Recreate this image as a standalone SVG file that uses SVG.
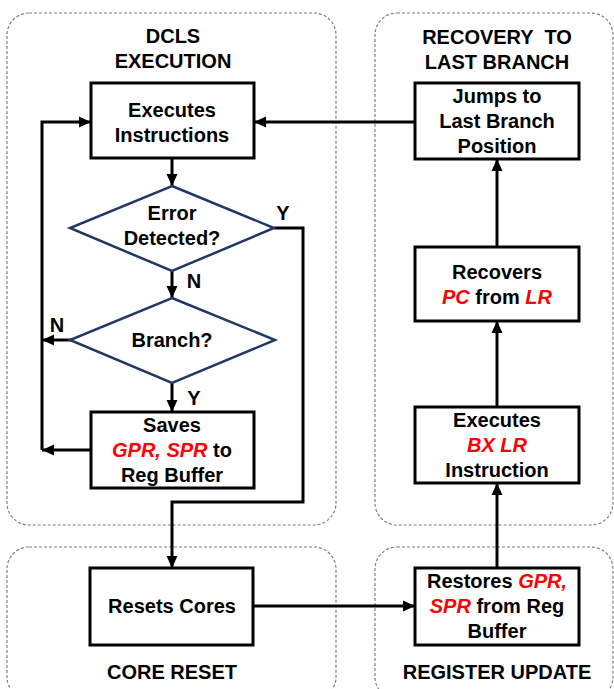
<svg xmlns="http://www.w3.org/2000/svg" width="614" height="689" viewBox="0 0 614 689">
<style>
.cont{fill:none;stroke:#7f7f7f;stroke-width:1.2;stroke-dasharray:3 2}
.box{fill:#fff;stroke:#000;stroke-width:3}
.dia{fill:#fff;stroke:#1f3864;stroke-width:2.5}
.t{font-family:"Liberation Sans",Arial,sans-serif;font-weight:bold;font-size:20px;fill:#000;text-anchor:middle}
.r{fill:#ff0000;font-style:italic}
.ln{fill:none;stroke:#000;stroke-width:3}
</style>
<defs>
<marker id="ah" markerUnits="userSpaceOnUse" markerWidth="14" markerHeight="14" viewBox="0 0 14 14" refX="13" refY="7" orient="auto">
<path d="M1,1.5 L13,7 L1,12.5 Z" fill="#000"/>
</marker>
</defs>
<g id="containers">
<rect class="cont" x="7" y="13" width="329" height="512" rx="22"/>
<rect class="cont" x="375" y="13" width="238" height="512" rx="22"/>
<rect class="cont" x="7" y="547" width="329" height="152" rx="22"/>
<rect class="cont" x="375" y="547" width="238" height="152" rx="22"/>
<text class="t" x="173" y="43">DCLS</text>
<text class="t" x="173" y="68">EXECUTION</text>
<text class="t" x="497" y="44" xml:space="preserve">RECOVERY  TO</text>
<text class="t" x="497" y="69">LAST BRANCH</text>
<text class="t" x="172" y="679">CORE RESET</text>
<text class="t" x="497" y="679">REGISTER UPDATE</text>
</g>
<g id="connectors">
<path class="ln" d="M172,158 V186" marker-end="url(#ah)"/>
<path class="ln" d="M172,271 V298" marker-end="url(#ah)"/>
<path class="ln" d="M172,383 V412" marker-end="url(#ah)"/>
<path class="ln" d="M72,340 H42" marker-end="url(#ah)"/>
<path class="ln" d="M91,450 H42" marker-end="url(#ah)"/>
<path class="ln" d="M42,450 V122 H91" marker-end="url(#ah)"/>
<path class="ln" d="M274,228 H303 V502 H172 V568" marker-end="url(#ah)"/>
<path class="ln" d="M415,122 H254" marker-end="url(#ah)"/>
<path class="ln" d="M253,606 H415" marker-end="url(#ah)"/>
<path class="ln" d="M497,568 V483" marker-end="url(#ah)"/>
<path class="ln" d="M497,407 V321" marker-end="url(#ah)"/>
<path class="ln" d="M497,247 V159" marker-end="url(#ah)"/>
<text class="t" x="283" y="220">Y</text>
<text class="t" x="194" y="288">N</text>
<text class="t" x="57" y="332">N</text>
<text class="t" x="194" y="405">Y</text>
</g>
<g id="exec">
<rect class="box" x="91" y="83" width="163" height="75"/>
<text class="t" x="172" y="117">Executes</text>
<text class="t" x="172" y="142">Instructions</text>
</g>
<g id="error">
<polygon class="dia" points="172,186 274,228 172,271 70,228"/>
<text class="t" x="172" y="220">Error</text>
<text class="t" x="172" y="245">Detected?</text>
</g>
<g id="branch">
<polygon class="dia" points="172,298 275,340 172,383 70,340"/>
<text class="t" x="172" y="347">Branch?</text>
</g>
<g id="saves">
<rect class="box" x="91" y="412" width="163" height="76"/>
<text class="t" x="172" y="432">Saves</text>
<text class="t" x="172" y="457"><tspan class="r">GPR, SPR</tspan> to</text>
<text class="t" x="172" y="482">Reg Buffer</text>
</g>
<g id="reset">
<rect class="box" x="90" y="568" width="163" height="77"/>
<text class="t" x="172" y="613">Resets Cores</text>
</g>
<g id="restore">
<rect class="box" x="415" y="568" width="164" height="77"/>
<text class="t" x="497" y="588">Restores <tspan class="r">GPR,</tspan></text>
<text class="t" x="497" y="613"><tspan class="r">SPR</tspan> from Reg</text>
<text class="t" x="497" y="638">Buffer</text>
</g>
<g id="bx">
<rect class="box" x="415" y="407" width="164" height="76"/>
<text class="t" x="497" y="427">Executes</text>
<text class="t" x="497" y="452"><tspan class="r">BX LR</tspan></text>
<text class="t" x="497" y="477">Instruction</text>
</g>
<g id="recover">
<rect class="box" x="415" y="247" width="164" height="74"/>
<text class="t" x="497" y="279">Recovers</text>
<text class="t" x="497" y="304"><tspan class="r">PC</tspan> from <tspan class="r">LR</tspan></text>
</g>
<g id="jumps">
<rect class="box" x="415" y="83" width="164" height="76"/>
<text class="t" x="497" y="103">Jumps to</text>
<text class="t" x="497" y="128">Last Branch</text>
<text class="t" x="497" y="153">Position</text>
</g>
</svg>
